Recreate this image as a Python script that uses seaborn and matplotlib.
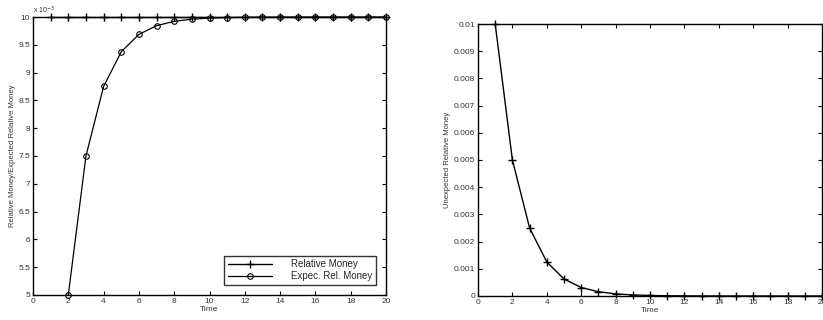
import numpy as np
import pandas as pd
import seaborn as sns
import matplotlib
matplotlib.use("Agg")
import matplotlib.pyplot as plt
from matplotlib.ticker import FuncFormatter, MultipleLocator

sns.set_style("ticks")
plt.rcParams["font.family"] = ["Liberation Sans", "DejaVu Sans"]
plt.rcParams["xtick.direction"] = "in"
plt.rcParams["ytick.direction"] = "in"

# Time periods
time_rel = list(range(1, 21))
time_exp = list(range(2, 21))

# Relative money stays at its new level after the shock
relative_money = [0.01] * 20

# Expected relative money converges towards the new level
expected_money = [0.005, 0.0075, 0.00875, 0.009375, 0.0096875, 0.00984375,
                  0.009921875, 0.0099609, 0.0099805, 0.0099902, 0.0099951,
                  0.0099976, 0.0099988, 0.0099994, 0.0099997, 0.0099998,
                  0.0099999, 0.01, 0.01]

# Unexpected relative money decays towards zero
unexpected_money = [0.01, 0.005, 0.0025, 0.00125, 0.000625, 0.0003125,
                    0.00015625, 0.000078, 0.000039, 0.0000195, 0.0000098,
                    0.0000049, 0.0000024, 0.0000012, 0.0000006, 0.0000003,
                    0.00000015, 0.00000008, 0.00000004, 0.00000002]

df_rel = pd.DataFrame({"Time": time_rel, "value": relative_money})
df_exp = pd.DataFrame({"Time": time_exp, "value": expected_money})
df_unexp = pd.DataFrame({"Time": time_rel, "value": unexpected_money})

fig = plt.figure(figsize=(8.23, 3.2), dpi=100)
ax1 = fig.add_axes([33 / 823, 1 - 295 / 320, 353 / 823, 278 / 320])
ax2 = fig.add_axes([478 / 823, 1 - 296 / 320, 344 / 823, 272 / 320])

fs = 6

plus_style = dict(marker="+", markersize=6, markeredgewidth=1.0,
                  markeredgecolor="black", markerfacecolor="black",
                  linewidth=1.0, clip_on=False)

sns.lineplot(data=df_rel, x="Time", y="value", ax=ax1, color="black",
             label="Relative Money", **plus_style)
sns.lineplot(data=df_exp, x="Time", y="value", ax=ax1, color="black",
             marker="o", markersize=4, markerfacecolor="none",
             markeredgecolor="black", markeredgewidth=0.8, linewidth=0.9,
             label="Expec. Rel. Money", clip_on=False)

ax1.set_xlim(0, 20)
ax1.set_ylim(0.005, 0.01)
ax1.xaxis.set_major_locator(MultipleLocator(2))
ax1.yaxis.set_major_locator(MultipleLocator(0.0005))
ax1.yaxis.set_major_formatter(FuncFormatter(lambda v, p: f"{v * 1000:g}"))
ax1.text(0.0, 1.005, r"x 10$^{-3}$", transform=ax1.transAxes, fontsize=5,
         ha="left", va="bottom", color="#333333")
ax1.set_xlabel("Time", fontsize=fs, labelpad=1, color="#333333")
ax1.set_ylabel("Relative Money/Expected Relative Money", fontsize=fs - 0.5,
               labelpad=2, color="#333333")
leg = ax1.legend(loc="lower right", fontsize=7, frameon=True, fancybox=False,
                 edgecolor="black", handlelength=4.5, borderaxespad=1.0,
                 handletextpad=2.0, borderpad=0.4, labelspacing=0.2)
leg.get_frame().set_linewidth(1.0)

sns.lineplot(data=df_unexp, x="Time", y="value", ax=ax2, color="black",
             legend=False, **plus_style)
ax2.set_xlim(0, 20)
ax2.set_ylim(0, 0.01)
ax2.xaxis.set_major_locator(MultipleLocator(2))
ax2.yaxis.set_major_locator(MultipleLocator(0.001))
ax2.yaxis.set_major_formatter(FuncFormatter(lambda v, p: f"{v:g}" if v else "0"))
ax2.set_xlabel("Time", fontsize=fs, labelpad=1, color="#333333")
ax2.set_ylabel("Unexpected Relative Money", fontsize=fs - 0.5, labelpad=2,
               color="#333333")

for ax in (ax1, ax2):
    ax.tick_params(axis="both", which="both", labelsize=fs, length=3,
                   width=0.8, top=True, right=True, pad=2, colors="black",
                   labelcolor="#333333")
    for s in ax.spines.values():
        s.set_visible(True)
        s.set_linewidth(1.0)
        s.set_color("black")

fig.savefig("out.png", dpi=100)
